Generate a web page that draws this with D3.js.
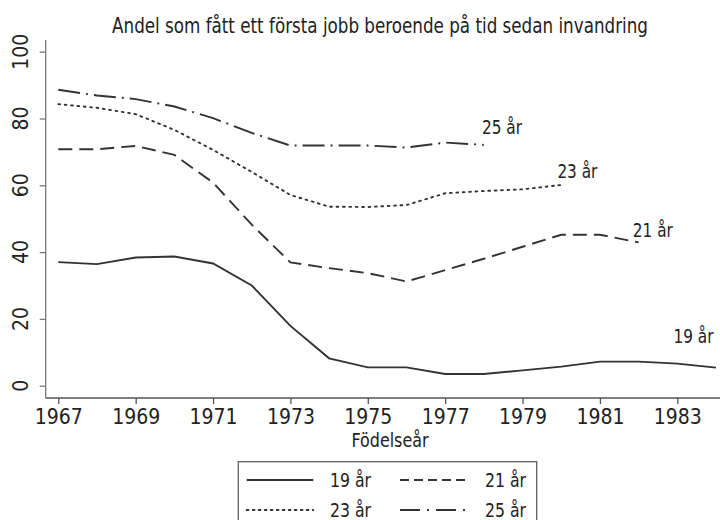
<!DOCTYPE html>
<html>
<head>
<meta charset="utf-8">
<script src="https://cdn.jsdelivr.net/npm/d3@7"></script>
<style>
  body { margin: 0; background: #fff; }
  svg text { font-family: "Liberation Sans Narrow", "DejaVu Sans Condensed", sans-serif; fill: #222; }
</style>
</head>
<body>
<script>
function init() {
    // Data
    var years = [1967, 1968, 1969, 1970, 1971, 1972, 1973, 1974, 1975, 1976,
                 1977, 1978, 1979, 1980, 1981, 1982, 1983, 1984];
    var age19 = [37.0, 36.4, 38.4, 38.7, 36.6, 30.0, 17.9, 8.2, 5.5, 5.5,
                 3.5, 3.5, 4.6, 5.7, 7.2, 7.2, 6.6, 5.4];
    var age21 = [70.8, 70.8, 71.8, 69.1, 60.8, 48.2, 36.9, 35.2, 33.7, 31.2,
                 34.6, 38.0, 41.6, 45.2, 45.2, 42.9];
    var age23 = [84.3, 83.2, 81.3, 76.6, 70.6, 64.0, 57.1, 53.6, 53.5, 54.1,
                 57.6, 58.3, 58.8, 60.1];
    var age25 = [88.6, 86.9, 85.8, 83.6, 80.1, 75.7, 71.9, 71.9, 71.9, 71.3,
                 72.8, 72.1];
    var xTicks = [1967, 1969, 1971, 1973, 1975, 1977, 1979, 1981, 1983];
    var yTicks = [0, 20, 40, 60, 80, 100];
    var seriesNames = ["19 år", "21 år", "23 år", "25 år"];

    var w = 720, h = 520;

    var svg = d3.select("body").append("svg")
        .attr("width", w)
        .attr("height", h);

    var x = d3.scaleLinear().domain([1967, 1984]).range([58.3, 716]);
    var y = d3.scaleLinear().domain([0, 100]).range([385.7, 51.7]);

    // line styles per series
    var dashes = ["none", "14,7", "1.8,4.6", "22,6,2,6"];
    var legendDashes = ["none", "9,5", "1.8,4.2", "20,7,2,7"];
    var caps = ["butt", "butt", "round", "butt"];
    var lineColor = "#333";

    var series = [age19, age21, age23, age25];

    // Title (condensed horizontally to match the narrow face)
    var title = svg.append("text")
        .attr("text-anchor", "middle")
        .style("font-size", "22px")
        .text("Andel som fått ett första jobb beroende på tid sedan invandring");
    var tw = title.node().getComputedTextLength();
    title.attr("transform", "translate(380,33) scale(" + (536 / tw) + ",1)");

    // Y axis
    var yAxis = d3.axisLeft(y).tickValues(yTicks).tickSize(6).tickFormat("");
    var gy = svg.append("g")
        .attr("transform", "translate(45.7,0)")
        .call(yAxis);
    gy.select(".domain").attr("d", "M0,40V398");
    gy.selectAll("path, line").attr("stroke", "#777").attr("stroke-width", 1.3);

    gy.selectAll(".ylab")
        .data(yTicks)
        .enter()
        .append("text")
        .attr("class", "ylab")
        .attr("transform", function(d) { return "translate(-17.7," + y(d) + ") rotate(-90)"; })
        .attr("text-anchor", "middle")
        .style("font-size", "21px")
        .text(function(d) { return d; });

    // X axis
    var xAxis = d3.axisBottom(x).tickValues(xTicks).tickSize(6).tickPadding(5)
        .tickFormat(d3.format("d"));
    var gx = svg.append("g")
        .attr("transform", "translate(0,398)")
        .call(xAxis);
    gx.select(".domain").attr("d", "M45.7,0H720");
    gx.selectAll("path, line").attr("stroke", "#555").attr("stroke-width", 1.3);
    gx.selectAll("text").style("font-size", "21px").attr("fill", "#222");

    svg.append("text")
        .attr("x", 390)
        .attr("y", 447)
        .attr("text-anchor", "middle")
        .attr("textLength", 77)
        .attr("lengthAdjust", "spacingAndGlyphs")
        .style("font-size", "20px")
        .text("Födelseår");

    // Lines
    var line = d3.line()
        .x(function(d, i) { return x(years[i]); })
        .y(function(d) { return y(d); });

    svg.selectAll("path.series")
        .data(series)
        .enter()
        .append("path")
        .attr("class", "series")
        .attr("fill", "none")
        .attr("stroke", lineColor)
        .attr("stroke-width", 1.9)
        .attr("stroke-linecap", function(d, i) { return caps[i]; })
        .attr("stroke-dasharray", function(d, i) { return dashes[i]; })
        .attr("d", line);

    // Series end labels (in data coordinates)
    var labelPos = [[1982.9, 12.8], [1981.85, 44.6], [1979.9, 62.2], [1977.95, 75.4]];
    svg.selectAll("text.endlab")
        .data(seriesNames)
        .enter()
        .append("text")
        .attr("class", "endlab")
        .attr("x", function(d, i) { return x(labelPos[i][0]); })
        .attr("y", function(d, i) { return y(labelPos[i][1]); })
        .attr("textLength", 40)
        .attr("lengthAdjust", "spacingAndGlyphs")
        .style("font-size", "19px")
        .text(function(d) { return d; });

    // Legend
    var legend = svg.append("g");
    legend.append("rect")
        .attr("x", 238.3)
        .attr("y", 461.7)
        .attr("width", 298.4)
        .attr("height", 70)
        .attr("fill", "none")
        .attr("stroke", "#555")
        .attr("stroke-width", 1.2);

    var items = legend.selectAll("g.item")
        .data(seriesNames)
        .enter()
        .append("g")
        .attr("class", "item")
        .attr("transform", function(d, i) {
            return "translate(" + (i % 2 === 0 ? 246.7 : 400) + "," + (i < 2 ? 480 : 510) + ")";
        });

    items.append("line")
        .attr("x1", 0)
        .attr("x2", function(d, i) { return i % 2 === 0 ? 66.6 : 70; })
        .attr("y1", 0)
        .attr("y2", 0)
        .attr("stroke", lineColor)
        .attr("stroke-width", 1.9)
        .attr("stroke-linecap", function(d, i) { return caps[i]; })
        .attr("stroke-dasharray", function(d, i) { return legendDashes[i]; });

    items.append("text")
        .attr("x", function(d, i) { return i % 2 === 0 ? 83.3 : 85; })
        .attr("y", 7)
        .attr("textLength", 41)
        .attr("lengthAdjust", "spacingAndGlyphs")
        .style("font-size", "19px")
        .text(function(d) { return d; });
}

window.onload = init;
</script>
</body>
</html>
